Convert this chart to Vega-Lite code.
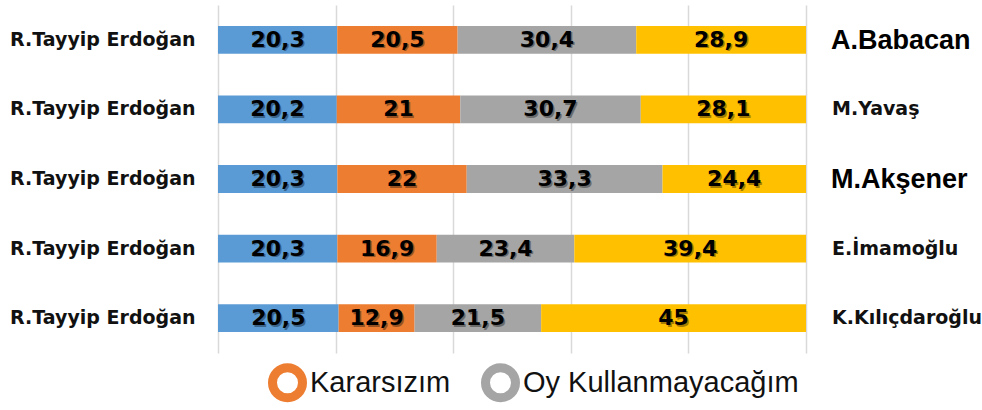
{
  "$schema": "https://vega.github.io/schema/vega-lite/v6.json",
  "width": 588,
  "height": 348,
  "autosize": {"type": "none"},
  "padding": {"left": 218, "top": 5, "right": 176, "bottom": 57},
  "background": "white",
  "config": {
    "view": {"stroke": null},
    "locale": {"number": {"decimal": ",", "thousands": ".", "grouping": [3], "currency": ["", " TL"]}}
  },
  "data": {
    "values": [
      {"opp": "A.Babacan", "cat": "R.Tayyip Erdoğan", "order": 1, "value": 20.3},
      {"opp": "A.Babacan", "cat": "Kararsızım", "order": 2, "value": 20.5},
      {"opp": "A.Babacan", "cat": "Oy Kullanmayacağım", "order": 3, "value": 30.4},
      {"opp": "A.Babacan", "cat": "Rakip", "order": 4, "value": 28.9},
      {"opp": "M.Yavaş", "cat": "R.Tayyip Erdoğan", "order": 1, "value": 20.2},
      {"opp": "M.Yavaş", "cat": "Kararsızım", "order": 2, "value": 21},
      {"opp": "M.Yavaş", "cat": "Oy Kullanmayacağım", "order": 3, "value": 30.7},
      {"opp": "M.Yavaş", "cat": "Rakip", "order": 4, "value": 28.1},
      {"opp": "M.Akşener", "cat": "R.Tayyip Erdoğan", "order": 1, "value": 20.3},
      {"opp": "M.Akşener", "cat": "Kararsızım", "order": 2, "value": 22},
      {"opp": "M.Akşener", "cat": "Oy Kullanmayacağım", "order": 3, "value": 33.3},
      {"opp": "M.Akşener", "cat": "Rakip", "order": 4, "value": 24.4},
      {"opp": "E.İmamoğlu", "cat": "R.Tayyip Erdoğan", "order": 1, "value": 20.3},
      {"opp": "E.İmamoğlu", "cat": "Kararsızım", "order": 2, "value": 16.9},
      {"opp": "E.İmamoğlu", "cat": "Oy Kullanmayacağım", "order": 3, "value": 23.4},
      {"opp": "E.İmamoğlu", "cat": "Rakip", "order": 4, "value": 39.4},
      {"opp": "K.Kılıçdaroğlu", "cat": "R.Tayyip Erdoğan", "order": 1, "value": 20.5},
      {"opp": "K.Kılıçdaroğlu", "cat": "Kararsızım", "order": 2, "value": 12.9},
      {"opp": "K.Kılıçdaroğlu", "cat": "Oy Kullanmayacağım", "order": 3, "value": 21.5},
      {"opp": "K.Kılıçdaroğlu", "cat": "Rakip", "order": 4, "value": 45}
    ]
  },
  "transform": [
    {"stack": "value", "groupby": ["opp"], "sort": [{"field": "order"}], "offset": "normalize", "as": ["v0", "v1"]},
    {"calculate": "(datum.v0 + datum.v1) / 2", "as": "mid"}
  ],
  "encoding": {
    "y": {
      "field": "opp",
      "type": "nominal",
      "sort": ["A.Babacan", "M.Yavaş", "M.Akşener", "E.İmamoğlu", "K.Kılıçdaroğlu"],
      "scale": {"paddingInner": 0.6, "paddingOuter": 0.3},
      "axis": {
        "title": null,
        "domain": false,
        "ticks": false,
        "grid": false,
        "labelExpr": "'R.Tayyip Erdoğan'",
        "labelFont": "DejaVu Sans",
        "labelFontWeight": "bold",
        "labelFontSize": 19,
        "labelColor": "#111111",
        "labelPadding": 23,
        "labelLimit": 300
      }
    }
  },
  "resolve": {"legend": {"color": "independent"}},
  "layer": [
    {
      "mark": {"type": "bar"},
      "encoding": {
        "x": {
          "field": "v0",
          "type": "quantitative",
          "scale": {"domain": [0, 1]},
          "axis": {"title": null, "values": [0, 0.2, 0.4, 0.6, 0.8, 1], "labels": false, "ticks": false, "domain": false, "grid": true, "gridColor": "#d9d9d9", "gridWidth": 1.5}
        },
        "x2": {"field": "v1"},
        "color": {
          "field": "cat",
          "type": "nominal",
          "scale": {
            "domain": ["R.Tayyip Erdoğan", "Kararsızım", "Oy Kullanmayacağım", "Rakip"],
            "range": ["#5B9BD5", "#ED7D31", "#A5A5A5", "#FFC000"]
          },
          "legend": null
        }
      }
    },
    {
      "transform": [{"filter": "false"}],
      "mark": {"type": "point", "filled": false, "shape": "circle", "strokeWidth": 9, "opacity": 1},
      "encoding": {
        "x": {"field": "mid", "type": "quantitative", "axis": {"title": null, "values": [0, 0.2, 0.4, 0.6, 0.8, 1], "labels": false, "ticks": false, "domain": false, "grid": true, "gridColor": "#d9d9d9", "gridWidth": 1.5}},
        "color": {
          "field": "cat",
          "type": "nominal",
          "legend": {
            "values": ["Kararsızım", "Oy Kullanmayacağım"],
            "title": null,
            "orient": "none",
            "direction": "horizontal",
            "legendX": 50,
            "legendY": 358,
            "padding": 0,
            "symbolType": "circle",
            "symbolSize": 900,
            "symbolStrokeWidth": 9,
            "symbolFillColor": "white",
            "symbolOpacity": 1,
            "labelFont": "Liberation Sans",
            "labelFontSize": 29,
            "labelColor": "#111111",
            "labelOffset": 3,
            "labelLimit": 400,
            "columnPadding": 16
          }
        }
      }
    },
    {
      "mark": {"type": "text", "font": "DejaVu Sans", "fontWeight": "bold", "fontSize": 22, "color": "#000000", "opacity": 0.35, "dx": 1.5, "dy": 1.5, "baseline": "middle"},
      "encoding": {
        "x": {"field": "mid", "type": "quantitative", "axis": {"title": null, "values": [0, 0.2, 0.4, 0.6, 0.8, 1], "labels": false, "ticks": false, "domain": false, "grid": true, "gridColor": "#d9d9d9", "gridWidth": 1.5}},
        "text": {"field": "value", "type": "quantitative", "format": ".1~f"}
      }
    },
    {
      "mark": {"type": "text", "font": "DejaVu Sans", "fontWeight": "bold", "fontSize": 22, "color": "#000000", "baseline": "middle"},
      "encoding": {
        "x": {"field": "mid", "type": "quantitative", "axis": {"title": null, "values": [0, 0.2, 0.4, 0.6, 0.8, 1], "labels": false, "ticks": false, "domain": false, "grid": true, "gridColor": "#d9d9d9", "gridWidth": 1.5}},
        "text": {"field": "value", "type": "quantitative", "format": ".1~f"}
      }
    },
    {
      "transform": [{"filter": "datum.order == 4 && (datum.opp == 'A.Babacan' || datum.opp == 'M.Akşener')"}],
      "mark": {"type": "text", "font": "Liberation Sans", "fontWeight": "bold", "fontSize": 27, "color": "#000000", "align": "left", "baseline": "middle", "dx": 25, "dy": 1},
      "encoding": {
        "x": {"datum": 1, "type": "quantitative"},
        "text": {"field": "opp", "type": "nominal"}
      }
    },
    {
      "transform": [{"filter": "datum.order == 4 && datum.opp != 'A.Babacan' && datum.opp != 'M.Akşener'"}],
      "mark": {"type": "text", "font": "DejaVu Sans", "fontWeight": "bold", "fontSize": 19, "color": "#111111", "align": "left", "baseline": "middle", "dx": 26},
      "encoding": {
        "x": {"datum": 1, "type": "quantitative"},
        "text": {"field": "opp", "type": "nominal"}
      }
    }
  ]
}
